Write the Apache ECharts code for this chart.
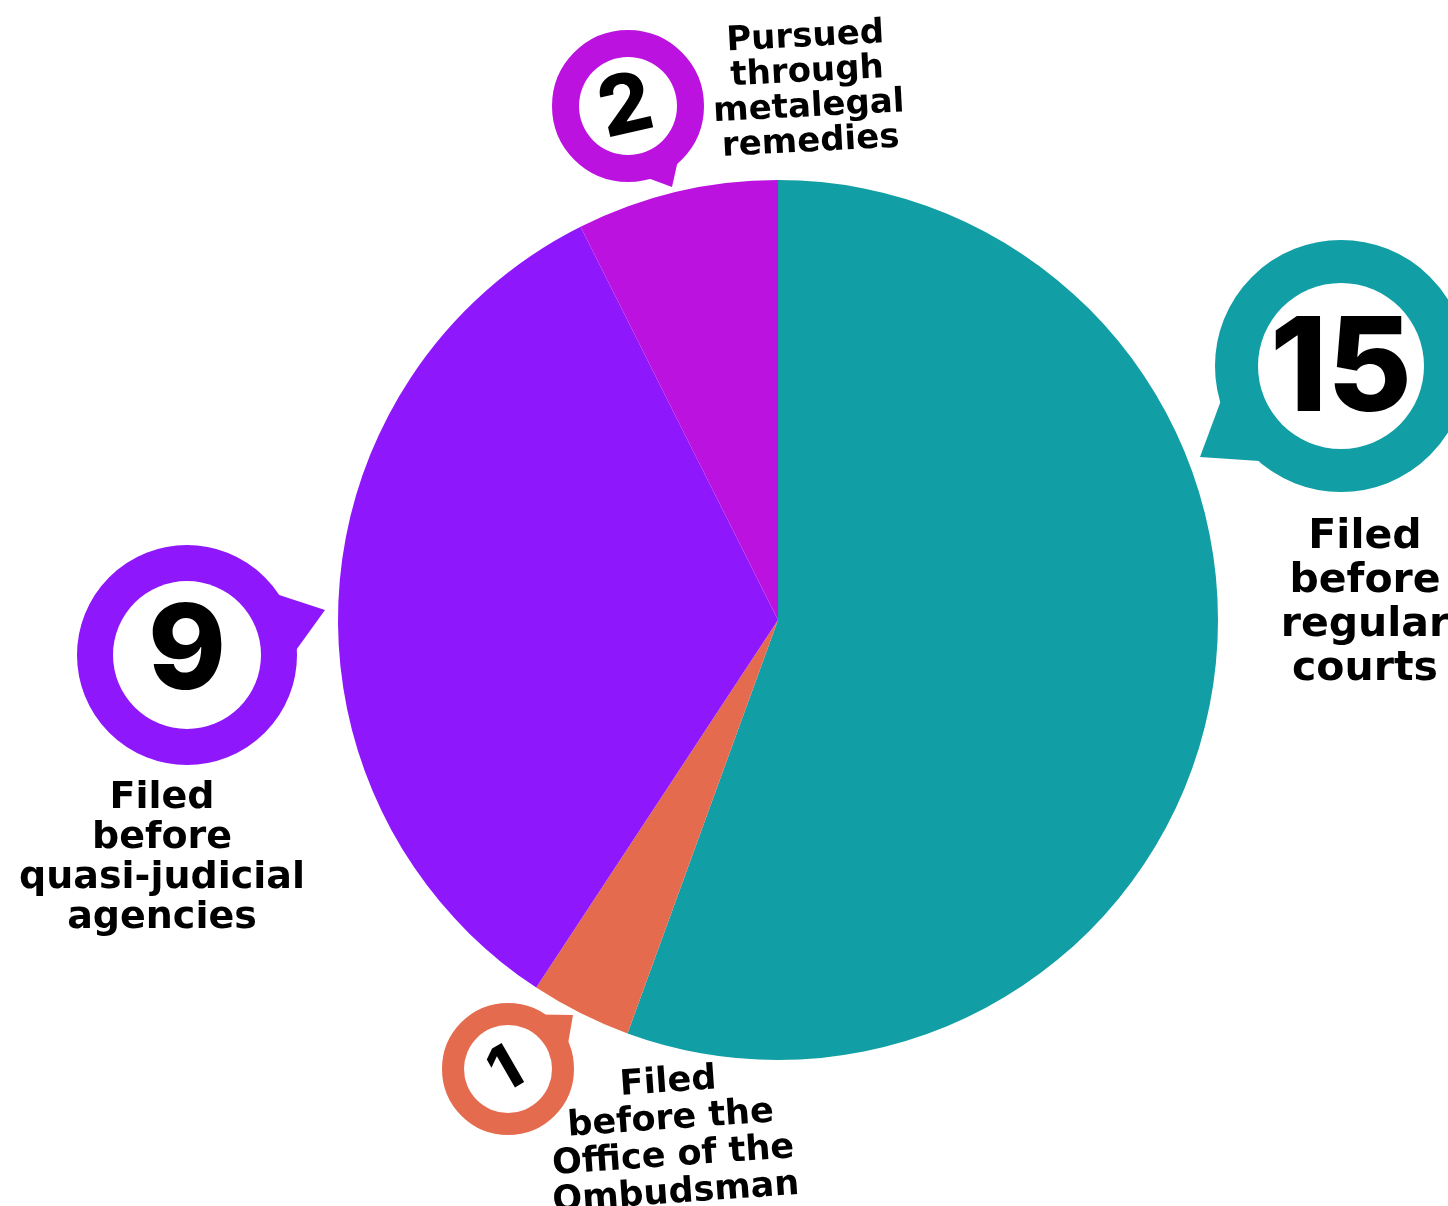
<!DOCTYPE html>
<html><head><meta charset="utf-8">
<script src="https://cdn.jsdelivr.net/npm/echarts@6/dist/echarts.min.js"></script>
<style>html,body{margin:0;padding:0;background:#fff;overflow:hidden}#c{width:1448px;height:1206px}</style>
</head><body><div id="c"></div>
<script>
// ---- data ----
const categories = ['Filed before regular courts', 'Filed before the Office of the Ombudsman', 'Filed before quasi-judicial agencies', 'Pursued through metalegal remedies'];
const labelTexts = ['Filed\nbefore\nregular\ncourts', 'Filed\nbefore the\nOffice of the\nOmbudsman', 'Filed\nbefore\nquasi-judicial\nagencies', 'Pursued\nthrough\nmetalegal\nremedies'];
const values = [15, 1, 9, 2];

// ---- styles / layout ----
const colors = ['#119EA5', '#E56B4E', '#8F17FC', '#BB12DF'];
const bubbleCenter = [[1341, 366], [508, 1069], [187, 655], [628, 106]];
const bubbleOuter = [126, 66, 110, 76];
const bubbleInner = [83, 44, 74, 49];
const numberCenter = [[1341, 372], [506, 1071], [187, 654], [626, 108]];
const numberFont = [130, 62, 118, 82];
const numberRotate = [0, 30, 0, 13];
const tailTip = [[1200, 457], [573, 1015], [325, 610], [672, 187]];
const tailSpread = [18, 20, 17, 15];
const textCenter = [[1365, 603], [672, 1138], [162, 858], [808, 90]];
const textFont = [41, 35, 38, 34];
const textLH = [44, 37, 40, 35];
const textRotate = [0, 4, 0, 3];
const NUMFONT = 'Inter, "Open Sans", "DejaVu Sans", sans-serif';
const TEXTFONT = '"DejaVu Sans", Inter, sans-serif';

const chart = echarts.init(document.getElementById('c'), null, {renderer: 'canvas'});

const rich = {};
values.forEach((v, i) => {
  const w = 2 * bubbleInner[i];
  rich['b' + i] = {
    width: w, height: w, lineHeight: w,
    borderRadius: (bubbleOuter[i] + bubbleInner[i]) / 2,
    borderWidth: bubbleOuter[i] - bubbleInner[i],
    borderColor: colors[i],
    backgroundColor: '#fff',
    padding: 0,
    fontSize: 10,
    color: 'rgba(0,0,0,0)'
  };
});

const tails = values.map((v, i) => {
  const [cx, cy] = bubbleCenter[i];
  const [tx, ty] = tailTip[i];
  const a = Math.atan2(ty - cy, tx - cx);
  const s = tailSpread[i] * Math.PI / 180;
  const R = bubbleOuter[i] - 3;
  return {
    type: 'polygon',
    z: 0,
    silent: true,
    shape: {points: [[tx, ty], [cx + R * Math.cos(a + s), cy + R * Math.sin(a + s)], [cx, cy], [cx + R * Math.cos(a - s), cy + R * Math.sin(a - s)]]},
    style: {fill: colors[i]}
  };
});

const pieCommon = {
  type: 'pie',
  center: [778, 620],
  radius: 440,
  startAngle: 90,
  clockwise: true,
  avoidLabelOverlap: false,
  silent: true,
  emphasis: {disabled: true},
  labelLine: {show: false},
  data: values.map((v, i) => ({name: categories[i], value: v}))
};
const hidden = {color: 'rgba(0,0,0,0)', borderWidth: 0};

chart.setOption({
  animation: false,
  color: colors,
  graphic: tails,
  series: [
    Object.assign({}, pieCommon, {
      z: 2,
      itemStyle: {borderWidth: 0},
      label: {
        show: true,
        position: 'outside',
        formatter: p => '{b' + p.dataIndex + '| }',
        rich: rich
      },
      labelLayout: p => ({
        x: bubbleCenter[p.dataIndex][0],
        y: bubbleCenter[p.dataIndex][1],
        align: 'center',
        verticalAlign: 'middle'
      })
    }),
    Object.assign({}, pieCommon, {
      z: 3,
      itemStyle: hidden,
      data: values.map((v, i) => ({
        name: categories[i], value: v,
        label: {fontSize: numberFont[i]}
      })),
      label: {
        show: true,
        position: 'outside',
        formatter: p => String(p.value),
        fontFamily: NUMFONT,
        fontWeight: 800,
        color: '#000'
      },
      labelLayout: p => ({
        x: numberCenter[p.dataIndex][0],
        y: numberCenter[p.dataIndex][1],
        align: 'center',
        verticalAlign: 'middle',
        rotate: numberRotate[p.dataIndex]
      })
    }),
    Object.assign({}, pieCommon, {
      z: 3,
      itemStyle: hidden,
      data: values.map((v, i) => ({
        name: categories[i], value: v,
        label: {fontSize: textFont[i], lineHeight: textLH[i]}
      })),
      label: {
        show: true,
        position: 'outside',
        formatter: p => labelTexts[p.dataIndex],
        fontFamily: TEXTFONT,
        fontWeight: 'bold',
        color: '#000',
        align: 'center'
      },
      labelLayout: p => ({
        x: textCenter[p.dataIndex][0],
        y: textCenter[p.dataIndex][1],
        align: 'center',
        verticalAlign: 'middle',
        rotate: textRotate[p.dataIndex]
      })
    })
  ]
});
</script>
</body></html>
